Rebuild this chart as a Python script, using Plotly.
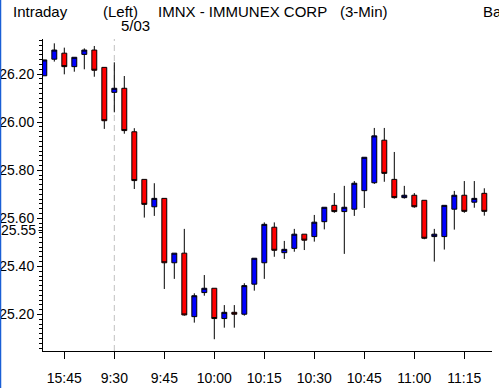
import plotly.graph_objects as go

times = ["15:39", "15:42", "15:45", "15:48", "15:51", "15:54", "15:57",
         "9:30", "9:33", "9:36", "9:39", "9:42", "9:45", "9:48", "9:51", "9:54", "9:57",
         "10:00", "10:03", "10:06", "10:09", "10:12", "10:15", "10:18", "10:21", "10:24", "10:27",
         "10:30", "10:33", "10:36", "10:39", "10:42", "10:45", "10:48", "10:51", "10:54", "10:57",
         "11:00", "11:03", "11:06", "11:09", "11:12", "11:15", "11:18", "11:21"]

opens = [26.193, 26.262, 26.287, 26.231, 26.282, 26.300, 26.228, 26.124, 26.141, 25.960,
         25.762, 25.648, 25.683, 25.415, 25.455, 25.191, 25.291, 25.309, 25.183, 25.209,
         25.201, 25.326, 25.415, 25.563, 25.457, 25.475, 25.534, 25.524, 25.586, 25.654,
         25.628, 25.638, 25.715, 25.748, 25.925, 25.762, 25.686, 25.696, 25.675, 25.524,
         25.524, 25.638, 25.696, 25.667, 25.704]
highs = [26.259, 26.328, 26.310, 26.270, 26.307, 26.317, 26.228, 26.249, 26.192, 25.975,
         25.762, 25.746, 25.683, 25.455, 25.556, 25.288, 25.364, 25.309, 25.239, 25.239,
         25.330, 25.434, 25.583, 25.583, 25.506, 25.556, 25.534, 25.614, 25.646, 25.705,
         25.735, 25.755, 25.854, 25.976, 25.976, 25.876, 25.735, 25.705, 25.675, 25.556,
         25.654, 25.714, 25.755, 25.755, 25.725]
lows = [26.193, 26.252, 26.199, 26.210, 26.220, 26.189, 25.972, 26.041, 25.952, 25.722,
        25.603, 25.610, 25.306, 25.348, 25.195, 25.166, 25.278, 25.097, 25.145, 25.145,
        25.195, 25.299, 25.348, 25.440, 25.431, 25.461, 25.468, 25.503, 25.554, 25.623,
        25.452, 25.610, 25.643, 25.743, 25.752, 25.682, 25.682, 25.644, 25.513, 25.420,
        25.470, 25.553, 25.623, 25.644, 25.611]
closes = [26.259, 26.300, 26.231, 26.270, 26.300, 26.216, 26.006, 26.141, 25.965, 25.757,
          25.658, 25.683, 25.415, 25.455, 25.198, 25.278, 25.309, 25.183, 25.209, 25.201,
          25.320, 25.434, 25.575, 25.467, 25.471, 25.534, 25.509, 25.584, 25.646, 25.628,
          25.646, 25.746, 25.854, 25.943, 25.787, 25.686, 25.696, 25.648, 25.517, 25.534,
          25.654, 25.696, 25.629, 25.683, 25.629]

x_ticks = ["15:45", "9:30", "9:45", "10:00", "10:15", "10:30", "10:45", "11:00", "11:15"]
y_ticks = [26.20, 26.00, 25.80, 25.60, 25.55, 25.40, 25.20]
y_labels = ["26.20", "26.00", "25.80", "25.60", "", "25.40", "25.20"]
session_start = "9:30"

TICK_FONT = dict(family="Liberation Sans, Arial, sans-serif", size=14, color="black")
HEAD_FONT = dict(family="Liberation Sans, Arial, sans-serif", size=15, color="black")

fig = go.Figure(go.Candlestick(
    x=times, open=opens, high=highs, low=lows, close=closes,
    increasing=dict(fillcolor="#0000ff", line=dict(color="black", width=1)),
    decreasing=dict(fillcolor="#ff0000", line=dict(color="black", width=1)),
    whiskerwidth=0, hoverinfo="skip", showlegend=False,
))

W, H = 499, 388
L, R, T, B = 43, 7, 39, 37
pw, ph = W - L - R, H - T - B


def px_x(p):
    return (p - L) / pw


def px_y(p):
    return (H - B - p) / ph


fig.update_layout(
    width=W, height=H,
    margin=dict(l=L, r=R, t=T, b=B, pad=0, autoexpand=False),
    paper_bgcolor="white", plot_bgcolor="white",
    showlegend=False,
    xaxis=dict(
        type="category", range=[-0.13, 44.77], automargin=False,
        rangeslider=dict(visible=False),
        tickmode="array", tickvals=x_ticks, ticktext=x_ticks, tickangle=0,
        showgrid=False, zeroline=False,
        showline=True, linecolor="black", linewidth=1,
        ticks="outside", ticklen=7, tickcolor="black", tickwidth=1,
        tickfont=TICK_FONT, ticklabelstandoff=7,
    ),
    yaxis=dict(
        range=[25.048, 26.346], automargin=False,
        tickmode="array", tickvals=y_ticks, ticktext=y_labels,
        showgrid=False, zeroline=False,
        showline=True, linecolor="black", linewidth=1,
        ticks="outside", ticklen=5, tickcolor="black", tickwidth=1,
        tickfont=TICK_FONT, ticklabelstandoff=0,
        minor=dict(tickmode="linear", tick0=0, dtick=0.02, ticks="outside",
                   ticklen=3, tickcolor="black", showgrid=False),
    ),
    shapes=[
        dict(type="line", xref="x", yref="paper", x0=session_start, x1=session_start,
             y0=0, y1=1, line=dict(color="#c0c0c0", width=1, dash="6px,4px"), layer="below"),
        dict(type="line", xref="paper", yref="paper", x0=px_x(0.5), x1=px_x(0.5),
             y0=px_y(H), y1=px_y(0), line=dict(color="#1a5fd6", width=1.5)),
        dict(type="rect", xref="paper", yref="paper", x0=px_x(1.5), x1=px_x(38.5),
             y0=px_y(236), y1=px_y(224), fillcolor="white", line=dict(width=0), layer="above"),
    ],
    annotations=[
        dict(text="25.55", xref="paper", yref="y", x=0, y=25.55, xanchor="right",
             yanchor="middle", xshift=-6, showarrow=False, font=TICK_FONT, borderpad=0),
        dict(text="Intraday", xref="paper", yref="paper", x=px_x(11), y=px_y(11),
             xanchor="left", yanchor="middle", showarrow=False, font=HEAD_FONT),
        dict(text="(Left)", xref="paper", yref="paper", x=px_x(100.5), y=px_y(11),
             xanchor="left", yanchor="middle", showarrow=False, font=HEAD_FONT),
        dict(text="IMNX - IMMUNEX CORP", xref="paper", yref="paper", x=px_x(156), y=px_y(11),
             xanchor="left", yanchor="middle", showarrow=False, font=HEAD_FONT),
        dict(text="(3-Min)", xref="paper", yref="paper", x=px_x(338), y=px_y(11),
             xanchor="left", yanchor="middle", showarrow=False, font=HEAD_FONT),
        dict(text="5/03", xref="paper", yref="paper", x=px_x(119), y=px_y(26),
             xanchor="left", yanchor="middle", showarrow=False, font=HEAD_FONT),
        dict(text="Ba", xref="paper", yref="paper", x=px_x(480.5), y=px_y(11),
             xanchor="left", yanchor="middle", showarrow=False, font=HEAD_FONT),
    ],
)

fig.write_html("out.html", config={"displayModeBar": False, "staticPlot": True},
               post_script="document.body.style.margin='0';document.body.style.overflow='hidden';")
